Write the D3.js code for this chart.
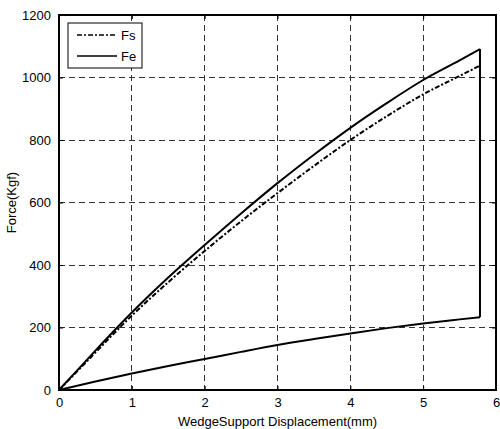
<!DOCTYPE html>
<html lang="en">
  <head>
    <meta charset="UTF-8"/>
    <title>Force vs Displacement</title>
    <script src="https://d3js.org/d3.v7.min.js"></script>
    <style>
      body { margin: 0; background: #fff; }
      text {
        font-family: 'Liberation Sans', Arial, sans-serif;
        font-size: 13px;
        fill: #000;
      }
      .grid line {
        stroke: #333;
        stroke-width: 1;
        stroke-dasharray: 6,4;
        shape-rendering: crispEdges;
      }
      .frame {
        fill: none;
        stroke: #000;
        stroke-width: 1.5;
        shape-rendering: crispEdges;
      }
      .curve {
        fill: none;
        stroke: #000;
        stroke-width: 2;
      }
    </style>
  </head>
  <body>
    <script type="text/javascript">

        // loading branch of Fs and Fe (displacement in mm, force in kgf)
        const loadX  = [0, 0.25, 0.5, 0.75, 1, 1.5, 2, 2.5, 3, 3.5, 4, 4.5, 5, 5.5, 5.78]
        const fsLoad = [0, 60, 120, 180, 238, 345, 445, 540, 630, 717, 800, 876, 946, 1005, 1038]
        const feLoad = [0, 63, 126, 188, 248, 360, 464, 565, 662, 753, 839, 918, 992, 1055, 1091]

        // unloading branch of Fe
        const unloadX  = [0, 0.5, 1, 1.5, 2, 2.5, 3, 3.5, 4, 4.5, 5, 5.5, 5.78]
        const feUnload = [0, 27, 53, 77, 99, 122, 144, 163, 181, 198, 213, 226, 233]

        const xTicks = [0, 1, 2, 3, 4, 5, 6]
        const yTicks = [0, 200, 400, 600, 800, 1000, 1200]
        const xAxisLabel = "WedgeSupport Displacement(mm)"
        const yAxisLabel = "Force(Kgf)"
        const legendNames = ["Fs", "Fe"]

        const outerWidth = 500,
              outerHeight = 429,
              margin = ({top: 15, right: 4, bottom: 39, left: 59}),
              width  = outerWidth - margin.left - margin.right,
              height = outerHeight - margin.top - margin.bottom

        const svg = d3.select("body").append("svg")
            .attr("width", outerWidth)
            .attr("height", outerHeight)

        const g = svg.append("g")
            .attr("transform", `translate(${margin.left},${margin.top})`)

        const xScale = d3.scaleLinear().domain([0, 6]).range([0, width])
        const yScale = d3.scaleLinear().domain([0, 1200]).range([height, 0])

        // dashed grid
        const grid = g.append("g").attr("class", "grid")
        grid.selectAll(".vx")
            .data(xTicks.slice(1, -1))
            .join("line")
            .attr("class", "vx")
            .attr("x1", d => xScale(d)).attr("x2", d => xScale(d))
            .attr("y1", 0).attr("y2", height)
        grid.selectAll(".hy")
            .data(yTicks.slice(1, -1))
            .join("line")
            .attr("class", "hy")
            .attr("x1", 0).attr("x2", width)
            .attr("y1", d => yScale(d)).attr("y2", d => yScale(d))

        // axes, ticks pointing inward like matlab
        const fmt = d3.format("d")
        g.append("g")
            .attr("transform", `translate(0,${height})`)
            .call(d3.axisBottom(xScale).tickValues(xTicks).tickFormat(fmt).tickSize(-4).tickPadding(8).tickSizeOuter(0))
        g.append("g")
            .call(d3.axisLeft(yScale).tickValues(yTicks).tickFormat(fmt).tickSize(-4).tickPadding(8).tickSizeOuter(0))
        g.append("g")
            .call(d3.axisTop(xScale).tickValues(xTicks).tickSize(-4).tickFormat(""))
        g.append("g")
            .attr("transform", `translate(${width},0)`)
            .call(d3.axisRight(yScale).tickValues(yTicks).tickSize(-4).tickFormat(""))

        g.selectAll(".domain").remove()
        g.selectAll(".tick line").attr("stroke", "#000")
        g.selectAll(".tick text")
            .style("font-family", "'Liberation Sans', Arial, sans-serif")
            .style("font-size", "13px")
            .attr("fill", "#000")

        g.append("rect")
            .attr("class", "frame")
            .attr("width", width)
            .attr("height", height)

        // curves
        const smooth = d3.line()
            .x(d => xScale(d[0]))
            .y(d => yScale(d[1]))
            .curve(d3.curveMonotoneX)

        const fsPath = loadX.map((x, i) => [x, fsLoad[i]])
        const feUp   = loadX.map((x, i) => [x, feLoad[i]])
        const feDown = unloadX.map((x, i) => [x, feUnload[i]])
        const xEnd = loadX[loadX.length - 1]
        const feDrop = [[xEnd, feLoad[feLoad.length - 1]], [xEnd, feUnload[feUnload.length - 1]]]

        g.append("path")
            .attr("class", "curve")
            .attr("d", smooth(fsPath))
            .attr("stroke-dasharray", "5,2,2,2")

        g.append("path").attr("class", "curve").attr("d", smooth(feUp))
        g.append("path").attr("class", "curve").attr("d", smooth(feDown))
        g.append("path").attr("class", "curve")
            .attr("stroke-linejoin", "miter")
            .attr("d", d3.line().x(d => xScale(d[0])).y(d => yScale(d[1]))(feDrop))

        // axis labels
        svg.append("text")
            .attr("text-anchor", "middle")
            .attr("x", margin.left + width / 2)
            .attr("y", 426)
            .text(xAxisLabel)

        svg.append("text")
            .attr("text-anchor", "middle")
            .attr("transform", `translate(16,${margin.top + height / 2}) rotate(-90)`)
            .text(yAxisLabel)

        // legend
        const legend = svg.append("g").attr("transform", "translate(68,23)")
        legend.append("rect")
            .attr("width", 74)
            .attr("height", 45)
            .attr("fill", "#fff")
            .attr("stroke", "#000")
            .attr("stroke-width", 1)
        legendNames.forEach((name, i) => {
            const y = 12 + i * 21
            legend.append("line")
                .attr("x1", 9).attr("x2", 49)
                .attr("y1", y).attr("y2", y)
                .attr("stroke", "#000")
                .attr("stroke-width", 1.5)
                .attr("stroke-dasharray", i === 0 ? "5,2,2,2" : null)
            legend.append("text")
                .attr("x", 53)
                .attr("y", y + 5)
                .text(name)
        })

    </script>
  </body>
</html>
